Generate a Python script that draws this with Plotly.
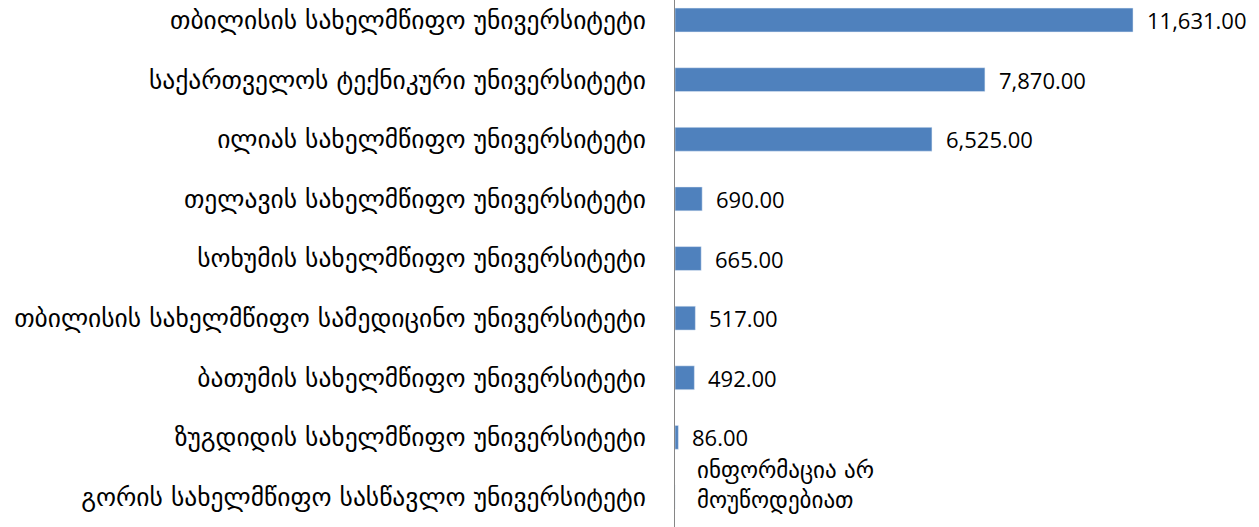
import plotly.graph_objects as go

categories = [
    "თბილისის სახელმწიფო უნივერსიტეტი",
    "საქართველოს ტექნიკური უნივერსიტეტი",
    "ილიას სახელმწიფო უნივერსიტეტი",
    "თელავის სახელმწიფო უნივერსიტეტი",
    "სოხუმის სახელმწიფო უნივერსიტეტი",
    "თბილისის სახელმწიფო სამედიცინო უნივერსიტეტი",
    "ბათუმის სახელმწიფო უნივერსიტეტი",
    "ზუგდიდის სახელმწიფო უნივერსიტეტი",
    "გორის სახელმწიფო სასწავლო უნივერსიტეტი",
]
values = [11631, 7870, 6525, 690, 665, 517, 492, 86, None]
missing_note = "ინფორმაცია არ<br>მოუწოდებიათ"

bar_color = "#4F81BD"
label_font = dict(family="DejaVu Sans", size=25.5, color="#000000")
value_font = dict(family="Open Sans", size=22, color="#000000")
note_font = dict(family="DejaVu Sans", size=23, color="#000000")

fig = go.Figure(go.Bar(
    y=categories,
    x=[v if v is not None else 0 for v in values],
    orientation="h",
    marker_color=bar_color,
    width=0.4,
    hoverinfo="skip",
))

for cat, v in zip(categories, values):
    if v is None:
        fig.add_annotation(x=0, y=cat, text=missing_note, showarrow=False,
                           xanchor="left", yanchor="middle", align="left",
                           xshift=20, yshift=12, font=note_font)
    else:
        fig.add_annotation(x=v, y=cat, text=f"{v:,.2f}", showarrow=False,
                           xanchor="left", yanchor="middle", xshift=12,
                           font=value_font)

fig.update_layout(
    width=1259, height=527,
    margin=dict(l=675, r=0, t=0, b=0, autoexpand=False),
    paper_bgcolor="white", plot_bgcolor="white",
    showlegend=False,
    hovermode=False,
    xaxis=dict(range=[0, 14830], visible=False, showgrid=False,
               zeroline=False, automargin=False),
    yaxis=dict(
        categoryorder="array", categoryarray=categories,
        range=[8.503, -0.336], automargin=False,
        showline=True, linecolor="#868686", linewidth=1,
        ticks="", showgrid=False, zeroline=False,
        tickfont=label_font, ticklabelstandoff=23,
    ),
)

fig.write_html("out.html", config={"displayModeBar": False},
               post_script="document.body.style.margin='0';")
